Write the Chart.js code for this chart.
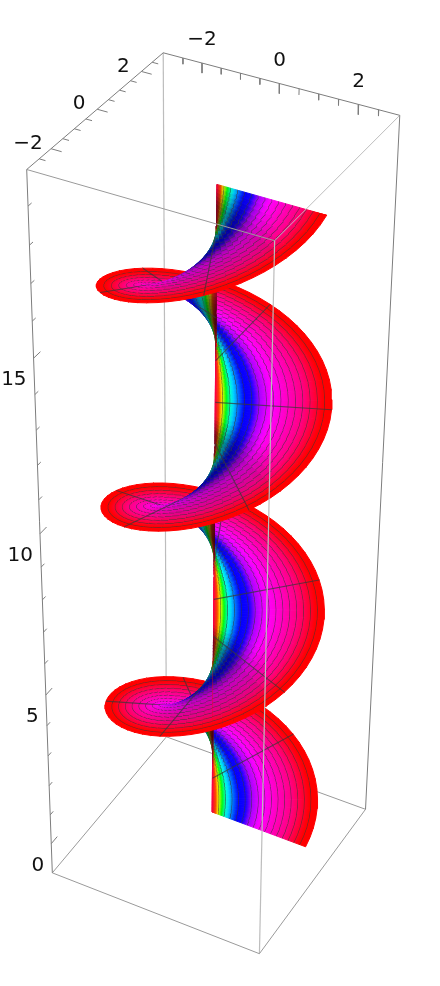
<!DOCTYPE html>
<html>
<head>
<meta charset="utf-8">
<style>html,body{margin:0;padding:0;background:#fff}canvas{display:block}</style>
<script src="https://cdn.jsdelivr.net/npm/chart.js@4/dist/chart.umd.js"></script>
</head>
<body>
<canvas id="plot" width="440" height="986"></canvas>
<script>
// --- Data ---
// rim of the surface over one turn (x, y), one value per 5.625 degrees
const rimX = [2.72,2.707,2.668,2.603,2.513,2.399,2.262,2.103,1.923,1.726,1.511,1.282,1.041,0.79,0.531,0.267,
  0,-0.267,-0.531,-0.79,-1.041,-1.282,-1.511,-1.726,-1.923,-2.103,-2.262,-2.399,-2.513,-2.603,-2.668,-2.707,
  -2.72,-2.707,-2.668,-2.603,-2.513,-2.399,-2.262,-2.103,-1.923,-1.726,-1.511,-1.282,-1.041,-0.79,-0.531,-0.267,
  0,0.267,0.531,0.79,1.041,1.282,1.511,1.726,1.923,2.103,2.262,2.399,2.513,2.603,2.668,2.707];
const rimY = [0,0.267,0.531,0.79,1.041,1.282,1.511,1.726,1.923,2.103,2.262,2.399,2.513,2.603,2.668,2.707,
  2.72,2.707,2.668,2.603,2.513,2.399,2.262,2.103,1.923,1.726,1.511,1.282,1.041,0.79,0.531,0.267,
  0,-0.267,-0.531,-0.79,-1.041,-1.282,-1.511,-1.726,-1.923,-2.103,-2.262,-2.399,-2.513,-2.603,-2.668,-2.707,
  -2.72,-2.707,-2.668,-2.603,-2.513,-2.399,-2.262,-2.103,-1.923,-1.726,-1.511,-1.282,-1.041,-0.79,-0.531,-0.267];
// height of each ruling, three turns
const rulingZ = [0,0.098,0.196,0.295,0.393,0.491,0.589,0.687,0.785,0.884,0.982,1.08,1.178,1.276,1.374,1.473,
  1.571,1.669,1.767,1.865,1.963,2.062,2.16,2.258,2.356,2.454,2.553,2.651,2.749,2.847,2.945,3.043,
  3.142,3.24,3.338,3.436,3.534,3.632,3.731,3.829,3.927,4.025,4.123,4.222,4.32,4.418,4.516,4.614,
  4.712,4.811,4.909,5.007,5.105,5.203,5.301,5.4,5.498,5.596,5.694,5.792,5.89,5.989,6.087,6.185,
  6.283,6.381,6.48,6.578,6.676,6.774,6.872,6.97,7.069,7.167,7.265,7.363,7.461,7.56,7.658,7.756,
  7.854,7.952,8.05,8.149,8.247,8.345,8.443,8.541,8.639,8.738,8.836,8.934,9.032,9.13,9.228,9.327,
  9.425,9.523,9.621,9.719,9.817,9.916,10.014,10.112,10.21,10.308,10.407,10.505,10.603,10.701,10.799,10.897,
  10.996,11.094,11.192,11.29,11.388,11.487,11.585,11.683,11.781,11.879,11.977,12.076,12.174,12.272,12.37,12.468,
  12.566,12.665,12.763,12.861,12.959,13.057,13.155,13.254,13.352,13.45,13.548,13.646,13.744,13.843,13.941,14.039,
  14.137,14.235,14.334,14.432,14.53,14.628,14.726,14.825,14.923,15.021,15.119,15.217,15.315,15.414,15.512,15.61,
  15.708,15.806,15.904,16.003,16.101,16.199,16.297,16.395,16.493,16.592,16.69,16.788,16.886,16.984,17.082,17.181,
  17.279,17.377,17.475,17.573,17.671,17.77,17.868,17.966,18.064,18.162,18.261,18.359,18.457,18.555,18.653,18.752,18.85];
const axisX = 0.03;
const axisY = 0;
const meshRulings = [12,24,36,48,60,72,84,96,108,120,132,144,156,168,180];
const ringCount = 15;

const boxX = [-3.02,3.02];
const boxY = [-3.02,3.02];
const boxZ = [-1.03,19.92];
const xyMajor = [-2,0,2];
const xyMinor = [-2.5,-1.5,-1,-0.5,0.5,1,1.5,2.5];
const zMajor = [0,5,10,15];
const zMinor = [1,2,3,4,6,7,8,9,11,12,13,14,16,17,18,19];

// colour along a ruling: fraction from axis to rim -> hue
const rampPos = [0,0.03,0.06,0.09,0.14,0.2,0.25,0.32,0.38,0.48,0.76,0.93,1];
const rampHue = [345,15,60,120,180,215,240,245,280,300,330,360,360];
// darkening near the axis by angle around the turn, and how far out along the ruling it reaches
const shadeDeg = [0,45,90,120,150,180,210,240,270,300,330,360];
const shadeAmt = [0.05,0,0.05,0.5,0.75,0.6,0.2,0.3,0.45,0.55,0.5,0.05];
const shadeReach = [0.4,0.4,0.4,0.4,0.4,0.4,0.5,0.7,0.9,0.9,0.9,0.4];

// --- View: box corners in the picture, everything else goes through this ---
const viewCorners = [
  [boxX[0],boxY[0],boxZ[0],52.7,872.7],[boxX[1],boxY[0],boxZ[0],259.3,954],
  [boxX[1],boxY[1],boxZ[0],365.7,809],[boxX[0],boxY[1],boxZ[0],166,737],
  [boxX[0],boxY[0],boxZ[1],26.7,170],[boxX[1],boxY[0],boxZ[1],274.3,240],
  [boxX[1],boxY[1],boxZ[1],400,116],[boxX[0],boxY[1],boxZ[1],163.3,52.3]
];

function solveCamera(rows) {
  const A = [], b = [];
  rows.forEach(([x,y,z,u,v]) => {
    A.push([x,y,z,1,0,0,0,0,-u*x,-u*y,-u*z]); b.push(u);
    A.push([0,0,0,0,x,y,z,1,-v*x,-v*y,-v*z]); b.push(v);
  });
  const n = 11;
  const M = [];
  for (let i = 0; i < n; i++) {
    M.push([]);
    for (let j = 0; j < n; j++) M[i].push(A.reduce((s,r) => s + r[i]*r[j], 0));
    M[i].push(A.reduce((s,r,k) => s + r[i]*b[k], 0));
  }
  for (let i = 0; i < n; i++) {
    let p = i;
    for (let r = i+1; r < n; r++) if (Math.abs(M[r][i]) > Math.abs(M[p][i])) p = r;
    [M[i],M[p]] = [M[p],M[i]];
    for (let r = 0; r < n; r++) {
      if (r === i) continue;
      const f = M[r][i] / M[i][i];
      for (let c = i; c <= n; c++) M[r][c] -= f * M[i][c];
    }
  }
  return M.map((r,i) => r[n] / r[i]);
}
const cam = solveCamera(viewCorners);
const project = (x,y,z) => {
  const w = cam[8]*x + cam[9]*y + cam[10]*z + 1;
  return { x: (cam[0]*x + cam[1]*y + cam[2]*z + cam[3]) / w,
           y: (cam[4]*x + cam[5]*y + cam[6]*z + cam[7]) / w };
};

// --- Colours ---
const lookup = (xs, ys, v) => {
  for (let i = 1; i < xs.length; i++) {
    if (v <= xs[i]) return ys[i-1] + (ys[i]-ys[i-1]) * (v-xs[i-1]) / (xs[i]-xs[i-1]);
  }
  return ys[ys.length-1];
};
function hueRgb(h) {
  h = ((h % 360) + 360) % 360 / 60;
  const c = 1 - Math.abs(h % 2 - 1);
  return [[1,c,0],[c,1,0],[0,1,c],[0,c,1],[c,0,1],[1,0,c]][Math.floor(h)];
}
function colourAt(f, deg, ring) {
  const d = lookup(shadeDeg, shadeAmt, deg % 360);
  const reach = lookup(shadeDeg, shadeReach, deg % 360);
  const k = 1 - d * (1 - Math.min(f / reach, 1));
  const rgb = hueRgb(lookup(rampPos, rampHue, f)).map(c => c * 255 * k);
  const out = ring ? rgb.map(c => c * 0.42 + 55 * 0.58) : rgb;
  return `rgb(${out.map(Math.round).join(",")})`;
}

// Triangle with gradient running axis -> rim. g is 0 on the axis and 1 on the rim,
// the ring lines are stops of that gradient.
function triFill(chart, tri) {
  if (!chart.chartArea) return "transparent";
  if (tri.paint) return tri.paint;
  const sx = chart.scales.x, sy = chart.scales.y;
  const [p0,p1,p2] = tri.pts.map(p => ({ x: sx.getPixelForValue(p.x), y: sy.getPixelForValue(p.y) }));
  const dx1 = p1.x-p0.x, dy1 = p1.y-p0.y, dx2 = p2.x-p0.x, dy2 = p2.y-p0.y;
  const det = dx1*dy2 - dx2*dy1;
  if (Math.abs(det) < 0.05) {
    tri.paint = colourAt(0.5, tri.deg);
    return tri.paint;
  }
  const a = (dy2 - tri.g2*dy1) / det, b = (tri.g2*dx1 - dx2) / det;
  const len2 = a*a + b*b;
  const grad = chart.ctx.createLinearGradient(p0.x, p0.y, p0.x + a/len2, p0.y + b/len2);
  const band = 1 / (ringCount + 1);
  const w = Math.min(Math.sqrt(len2) * 0.8, band * 0.4);
  grad.addColorStop(0, colourAt(0, tri.deg));
  for (let i = 0; i <= ringCount; i++) {
    const from = i * band, to = from + band;
    if (i > 0) grad.addColorStop(from, colourAt(from, tri.deg, true));
    grad.addColorStop(from + (i > 0 ? w : 0), colourAt(from + (i > 0 ? w : 0), tri.deg));
    grad.addColorStop(from + band/2, colourAt(from + band/2, tri.deg));
    if (i < ringCount) grad.addColorStop(to - w, colourAt(to - w, tri.deg));
  }
  grad.addColorStop(1, colourAt(1, tri.deg));
  tri.paint = grad;
  return grad;
}

// --- Datasets, collected in paint order ---
const painted = [];
const addLine = (a, b, color, width) => painted.push({
  data: [a, b], showLine: true, pointRadius: 0, borderColor: color, borderWidth: width, fill: false
});
const addTri = (pts, g2, deg) => {
  const tri = { pts, g2, deg };
  painted.push({
    data: [...pts, pts[0]], showLine: true, pointRadius: 0, fill: "shape", borderWidth: 1,
    backgroundColor: c => triFill(c.chart, tri),
    borderColor: c => triFill(c.chart, tri)
  });
};
const edge = (a, b, color, width) => addLine(project(...a), project(...b), color, width);

const [xa,xb] = boxX, [ya,yb] = boxY, [za,zb] = boxZ;
const thinGrey = "#9a9a9a", softGrey = "#bdbdbd", tickGrey = "#7d7d7d";

// box edges behind the surface
edge([xa,yb,za],[xa,yb,zb],softGrey,1.2);
edge([xa,yb,za],[xa,ya,za],thinGrey,1);
edge([xa,yb,za],[xb,yb,za],thinGrey,1);

// surface, later rulings cover earlier ones
const rulingAt = k => ({ axis: project(axisX,axisY,rulingZ[k]), rim: project(axisX+rimX[k%64],axisY+rimY[k%64],rulingZ[k]) });
for (let k = 0; k < rulingZ.length - 1; k++) {
  const r0 = rulingAt(k), r1 = rulingAt(k+1);
  const deg = (k + 0.5) * 5.625;
  addTri([r0.axis, r0.rim, r1.rim], 1, deg);
  addTri([r0.axis, r1.rim, r1.axis], 0, deg);
  if (meshRulings.includes(k)) addLine(r0.axis, r0.rim, "rgba(55,55,55,0.72)", 1.1);
}

// box edges in front
edge([xa,ya,zb],[xb,ya,zb],thinGrey,1);
edge([xb,ya,zb],[xb,yb,zb],softGrey,1);
edge([xb,ya,za],[xb,ya,zb],softGrey,1.2);
edge([xa,ya,za],[xb,ya,za],thinGrey,1);
edge([xb,ya,za],[xb,yb,za],thinGrey,1);
edge([xa,ya,za],[xa,ya,zb],tickGrey,1);
edge([xb,yb,za],[xb,yb,zb],tickGrey,1);
edge([xa,ya,zb],[xa,yb,zb],tickGrey,1);
edge([xa,yb,zb],[xb,yb,zb],tickGrey,1);

// ticks
xyMajor.forEach(v => {
  edge([v,yb,zb],[v,yb,zb-0.26],tickGrey,1);
  edge([xa,v,zb],[xa+0.27,v,zb],tickGrey,1);
});
xyMinor.forEach(v => {
  edge([v,yb,zb],[v,yb,zb-0.16],tickGrey,1);
  edge([xa,v,zb],[xa+0.16,v,zb],tickGrey,1);
});
zMajor.forEach(v => edge([xa,ya,v],[xa,ya+0.3,v],tickGrey,1));
zMinor.forEach(v => edge([xa,ya,v],[xa,ya+0.15,v],tickGrey,1));

// --- Tick labels ---
const labelFont = '20px "DejaVu Sans"';
const tickText = v => (v < 0 ? "\u2212" + (-v) : String(v));
const tickLabels = {
  id: "tickLabels",
  afterDraw(chart) {
    const { ctx, scales: { x: sx, y: sy } } = chart;
    const put = (pos, text, dx, dy, align) => {
      ctx.textAlign = align;
      ctx.fillText(text, sx.getPixelForValue(pos.x) + dx, sy.getPixelForValue(pos.y) + dy);
    };
    ctx.save();
    ctx.font = labelFont;
    ctx.fillStyle = "#111";
    ctx.textBaseline = "middle";
    xyMajor.forEach(v => {
      put(project(v,yb,zb), tickText(v), 0, -23, "center");
      put(project(xa,v,zb), tickText(v), v < 0 ? -23 : -18, -5, "center");
    });
    zMajor.forEach(v => put(project(xa,ya,v), tickText(v), -7, 22, "right"));
    ctx.restore();
  }
};

new Chart(document.getElementById("plot"), {
  type: "scatter",
  data: { datasets: painted.reverse() },   // Chart.js paints the last dataset first
  options: {
    responsive: false,
    animation: false,
    events: [],
    layout: { padding: 0 },
    plugins: { legend: { display: false }, tooltip: { enabled: false } },
    scales: {
      x: { type: "linear", min: 0, max: 440, display: false },
      y: { type: "linear", min: 0, max: 986, reverse: true, display: false }
    }
  },
  plugins: [tickLabels]
});
</script>
</body>
</html>
